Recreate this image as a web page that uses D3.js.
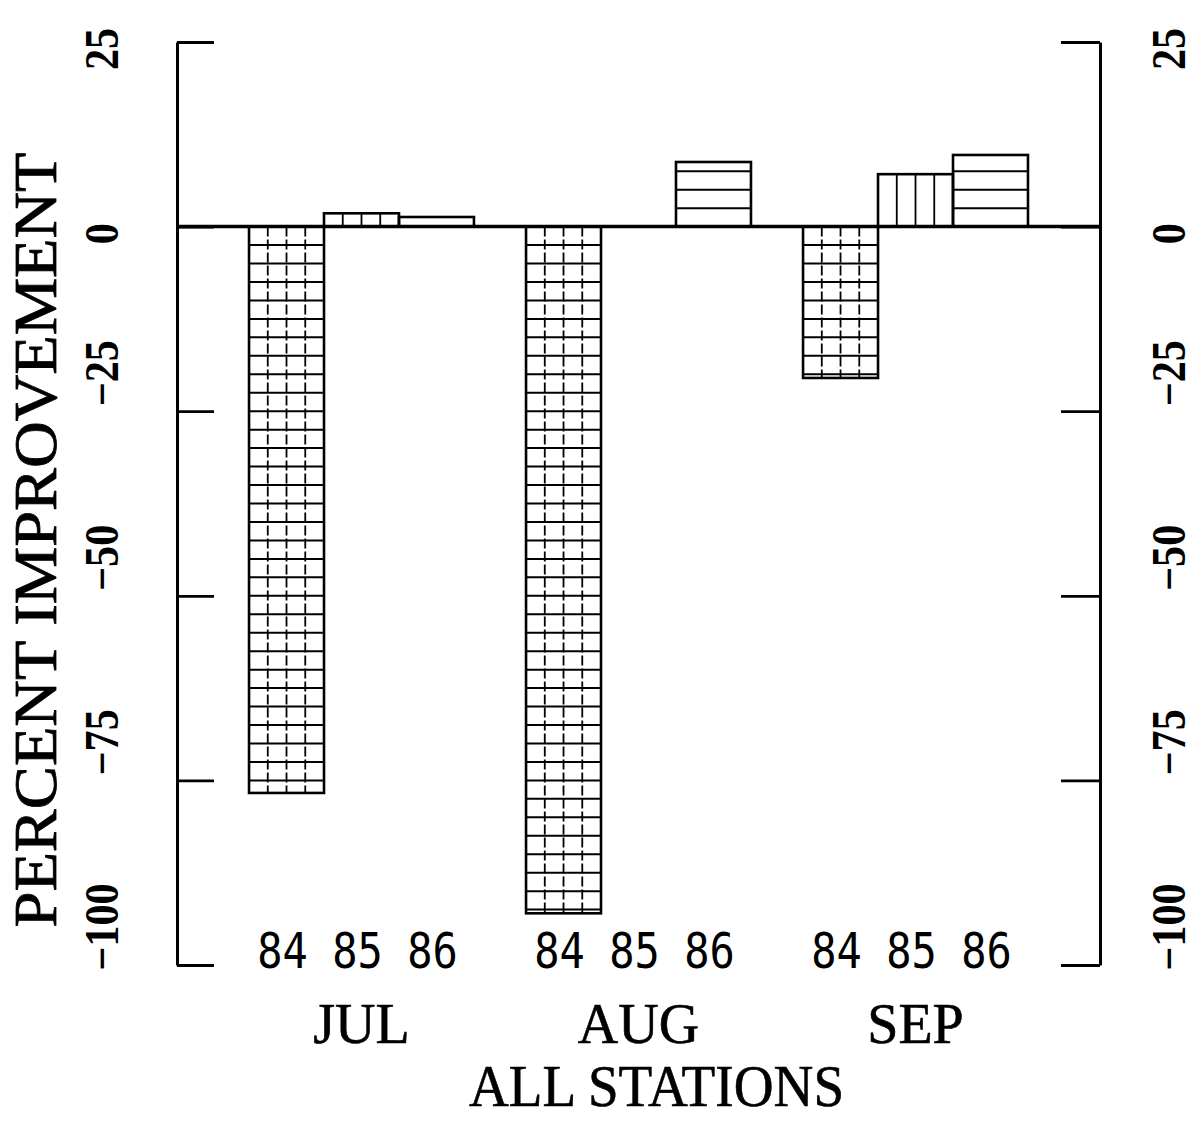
<!DOCTYPE html>
<html>
<head>
<meta charset="utf-8">
<script src="https://cdn.jsdelivr.net/npm/d3@7"></script>
<style>
  body { margin: 0; background: #fff; }
  svg { display: block; }
  .serif { font-family: "Liberation Serif", "DejaVu Serif", serif; }
  .mono { font-family: "DejaVu Sans Mono", monospace; }
</style>
</head>
<body>
<svg id="chart" width="1200" height="1124"></svg>
<script>
// Data
const months = ["JUL", "AUG", "SEP"];
const years = ["84", "85", "86"];
const julValues = [-76.7, 1.8, 1.3];
const augValues = [-93.0, 0, 8.75];
const sepValues = [-20.5, 7.1, 9.7];
const yTicks = [25, 0, -25, -50, -75, -100];
// fill style per year: 84 grid, 85 vertical lines, 86 horizontal lines
const yearPattern = { "84": "grid", "85": "vert", "86": "horiz" };

const valuesByMonth = { JUL: julValues, AUG: augValues, SEP: sepValues };

const svg = d3.select('#chart');
const plot = { left: 177, right: 1100, top: 42, bottom: 965 };

const y = d3.scaleLinear()
    .domain([-100, 25])
    .range([plot.bottom, plot.top]);

const x = d3.scaleBand()
    .domain(months)
    .range([plot.left, plot.right])
    .paddingInner(0.188)
    .paddingOuter(0.26);

const xYear = d3.scaleBand()
    .domain(years)
    .range([0, x.bandwidth()]);

// flatten to bar records
const bars = [];
months.forEach(m => {
    valuesByMonth[m].forEach((v, i) => {
        bars.push({ month: m, year: years[i], value: v });
    });
});

// left & right axes (line + inward ticks)
const leftAxis = d3.axisRight(y).tickValues(yTicks).tickSize(37).tickSizeOuter(0).tickFormat('');
const rightAxis = d3.axisLeft(y).tickValues(yTicks).tickSize(39).tickSizeOuter(0).tickFormat('');

[[leftAxis, plot.left], [rightAxis, plot.right]].forEach(([ax, px]) => {
    const g = svg.append('g')
        .attr('transform', `translate(${px},0)`)
        .call(ax);
    g.select('.domain').attr('stroke', '#000').attr('stroke-width', 3);
    g.selectAll('.tick line').attr('stroke', '#000').attr('stroke-width', 2.8);
});

// bars
const stepUnits = 2.5;
const barG = svg.append('g');
bars.forEach(d => {
    if (d.value === 0) return;
    const x0 = x(d.month) + xYear(d.year);
    const w = xYear.bandwidth();
    const y0 = y(Math.max(0, d.value));
    const y1 = y(Math.min(0, d.value));
    const g = barG.append('g');
    const kind = yearPattern[d.year];

    if (kind === 'grid' || kind === 'horiz') {
        const sign = d.value < 0 ? -1 : 1;
        d3.range(stepUnits, Math.abs(d.value), stepUnits).forEach(u => {
            g.append('line')
                .attr('x1', x0).attr('x2', x0 + w)
                .attr('y1', y(sign * u)).attr('y2', y(sign * u))
                .attr('stroke', '#000').attr('stroke-width', 2);
        });
    }
    if (kind === 'grid' || kind === 'vert') {
        [1, 2, 3].forEach(k => {
            g.append('line')
                .attr('x1', x0 + k * w / 4).attr('x2', x0 + k * w / 4)
                .attr('y1', y0).attr('y2', y1)
                .attr('stroke', '#000').attr('stroke-width', 1.8)
                .attr('stroke-dasharray', kind === 'grid' ? '10,3' : null);
        });
    }
    g.append('rect')
        .attr('x', x0).attr('y', y0)
        .attr('width', w).attr('height', y1 - y0)
        .attr('fill', 'none')
        .attr('stroke', '#000').attr('stroke-width', 2.6);
});

// zero line
svg.append('line')
    .attr('x1', plot.left).attr('x2', plot.right)
    .attr('y1', y(0)).attr('y2', y(0))
    .attr('stroke', '#000').attr('stroke-width', 3.5);

// rotated tick labels on both sides
const fmt = d => d < 0 ? '\u2212' + Math.abs(d) : String(d);
[101, 1168].forEach(cx => {
    svg.append('g').selectAll('text')
        .data(yTicks)
        .join('text')
        .attr('class', 'serif')
        .attr('transform', d => `translate(${cx + 17},${y(d) + (d < 0 ? -38 : 7)}) rotate(-90) scale(0.88,1)`)
        .attr('text-anchor', 'middle')
        .attr('font-size', 48)
        .attr('font-weight', 'bold')
        .text(fmt);
});

// y title
svg.append('text')
    .attr('class', 'serif')
    .attr('transform', `translate(56,540) rotate(-90)`)
    .attr('text-anchor', 'middle')
    .attr('font-size', 62)
    .attr('stroke', '#000').attr('stroke-width', 0.8)
    .attr('textLength', 775)
    .attr('lengthAdjust', 'spacingAndGlyphs')
    .text('PERCENT IMPROVEMENT');

// year labels under each bar
const yearLabels = svg.append('g');
months.forEach(m => {
    years.forEach(yr => {
        const cx = x(m) + xYear(yr) + xYear.bandwidth() / 2;
        yearLabels.append('text')
            .attr('class', 'mono')
            .attr('transform', `translate(${cx - 4},968) scale(0.84,1)`)
            .attr('text-anchor', 'middle')
            .attr('font-size', 50)
            .text(yr);
    });
});

// month labels
svg.append('g').selectAll('text')
    .data(months)
    .join('text')
    .attr('class', 'serif')
    .attr('x', d => x(d) + x.bandwidth() / 2)
    .attr('y', 1043)
    .attr('text-anchor', 'middle')
    .attr('font-size', 56)
    .attr('stroke', '#000').attr('stroke-width', 0.6)
    .text(d => d);

// bottom caption
svg.append('text')
    .attr('class', 'serif')
    .attr('transform', `translate(${(plot.left + plot.right) / 2 + 18},1106) scale(0.92,1)`)
    .attr('text-anchor', 'middle')
    .attr('font-size', 60)
    .attr('stroke', '#000').attr('stroke-width', 0.6)
    .text('ALL STATIONS');
</script>
</body>
</html>
